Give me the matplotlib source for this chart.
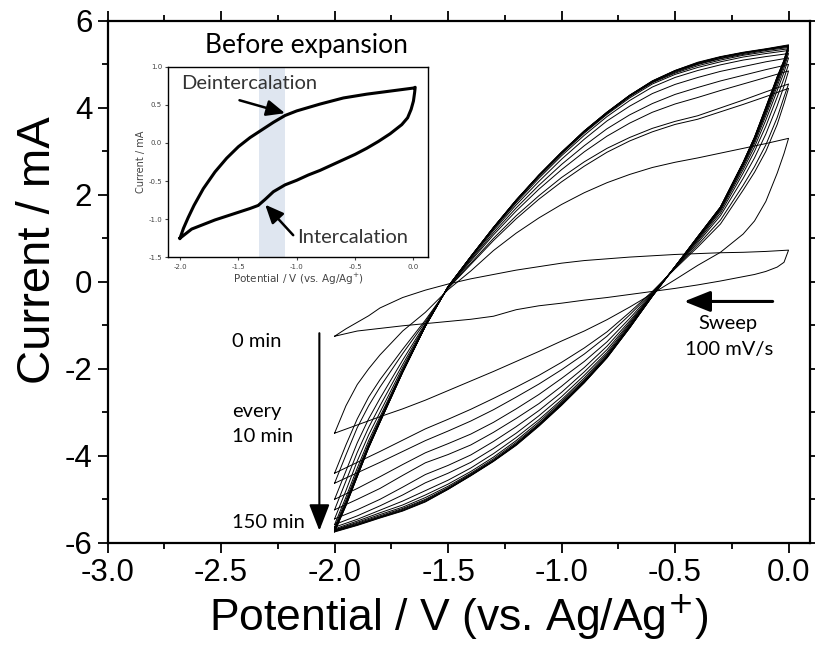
import matplotlib
matplotlib.use("Agg")
import matplotlib.pyplot as plt

plt.rcParams["axes.unicode_minus"] = False

# potentials (V) where the currents were read, forward sweep (-2 -> 0) and reverse (0 -> -2)
fwd_v = [-2.0, -1.95, -1.9, -1.85, -1.8, -1.7, -1.6, -1.5, -1.4, -1.3, -1.2, -1.1,
         -1.0, -0.9, -0.8, -0.7, -0.6, -0.5, -0.4, -0.3, -0.2, -0.1, 0.0]
rev_v = [0.0, -0.02, -0.05, -0.1, -0.15, -0.2, -0.3, -0.4, -0.5, -0.6, -0.7, -0.8,
         -0.9, -1.0, -1.1, -1.2, -1.3, -1.4, -1.5, -1.6, -1.7, -1.8, -1.9, -2.0]

# currents (mA), one loop every 10 min
fwd_000 = [-1.25, -1.08, -0.93, -0.78, -0.60, -0.36, -0.19, -0.05, 0.07, 0.17, 0.27, 0.35, 0.43, 0.49, 0.53, 0.57, 0.60, 0.63, 0.65, 0.67, 0.68, 0.70, 0.73]
rev_000 = [0.73, 0.45, 0.34, 0.24, 0.17, 0.12, 0.02, -0.07, -0.15, -0.22, -0.29, -0.36, -0.42, -0.49, -0.55, -0.64, -0.79, -0.86, -0.91, -0.96, -1.01, -1.07, -1.13, -1.25]
fwd_010 = [-3.48, -2.85, -2.36, -2.00, -1.68, -1.13, -0.70, -0.18, 0.25, 0.72, 1.12, 1.47, 1.78, 2.05, 2.28, 2.47, 2.63, 2.75, 2.85, 2.96, 3.07, 3.18, 3.30]
rev_010 = [3.30, 2.95, 2.50, 1.85, 1.40, 1.10, 0.68, 0.38, 0.05, -0.27, -0.58, -0.87, -1.13, -1.36, -1.60, -1.83, -2.06, -2.28, -2.50, -2.72, -2.92, -3.10, -3.29, -3.48]
fwd_020 = [-4.40, -3.75, -3.15, -2.65, -2.25, -1.55, -0.88, -0.15, 0.40, 0.95, 1.45, 1.90, 2.30, 2.66, 2.98, 3.24, 3.45, 3.62, 3.74, 3.91, 4.08, 4.26, 4.45]
rev_020 = [4.45, 4.10, 3.62, 3.00, 2.52, 2.11, 1.33, 0.80, 0.30, -0.22, -0.70, -1.15, -1.52, -1.85, -2.15, -2.42, -2.68, -2.93, -3.16, -3.38, -3.64, -3.90, -4.15, -4.40]
fwd_030 = [-4.63, -3.98, -3.35, -2.85, -2.42, -1.65, -0.92, -0.14, 0.43, 1.00, 1.52, 1.98, 2.40, 2.76, 3.07, 3.32, 3.53, 3.69, 3.82, 4.00, 4.18, 4.37, 4.55]
rev_030 = [4.55, 4.25, 3.78, 3.15, 2.65, 2.22, 1.42, 0.85, 0.32, -0.24, -0.76, -1.25, -1.66, -2.02, -2.35, -2.65, -2.94, -3.20, -3.43, -3.65, -3.90, -4.15, -4.39, -4.63]
fwd_040 = [-5.00, -4.35, -3.70, -3.15, -2.68, -1.80, -0.96, -0.13, 0.48, 1.08, 1.63, 2.13, 2.58, 2.99, 3.35, 3.65, 3.90, 4.09, 4.24, 4.40, 4.55, 4.70, 4.85]
rev_040 = [4.85, 4.50, 4.05, 3.40, 2.85, 2.38, 1.52, 0.90, 0.33, -0.26, -0.84, -1.38, -1.83, -2.22, -2.59, -2.92, -3.23, -3.50, -3.72, -3.93, -4.20, -4.48, -4.75, -5.00]
fwd_050 = [-5.24, -4.58, -3.92, -3.35, -2.85, -1.90, -0.98, -0.12, 0.51, 1.13, 1.70, 2.22, 2.70, 3.13, 3.52, 3.84, 4.10, 4.31, 4.47, 4.62, 4.75, 4.88, 5.00]
rev_050 = [5.00, 4.68, 4.25, 3.58, 3.00, 2.50, 1.58, 0.94, 0.34, -0.28, -0.90, -1.48, -1.97, -2.40, -2.80, -3.14, -3.46, -3.75, -3.97, -4.16, -4.45, -4.75, -5.00, -5.24]
fwd_060 = [-5.45, -4.80, -4.12, -3.52, -3.00, -1.97, -1.00, -0.12, 0.54, 1.18, 1.77, 2.31, 2.82, 3.28, 3.70, 4.04, 4.33, 4.54, 4.70, 4.84, 4.95, 5.06, 5.15]
rev_060 = [5.15, 4.82, 4.40, 3.72, 3.10, 2.58, 1.63, 0.97, 0.34, -0.29, -0.94, -1.56, -2.07, -2.54, -2.96, -3.33, -3.67, -3.98, -4.22, -4.43, -4.72, -5.00, -5.24, -5.45]
fwd_070 = [-5.58, -4.95, -4.28, -3.65, -3.10, -2.02, -1.01, -0.11, 0.56, 1.21, 1.82, 2.38, 2.90, 3.37, 3.80, 4.17, 4.48, 4.70, 4.86, 4.99, 5.10, 5.18, 5.25]
rev_070 = [5.25, 4.92, 4.50, 3.82, 3.18, 2.64, 1.66, 0.99, 0.35, -0.30, -0.97, -1.62, -2.15, -2.64, -3.08, -3.48, -3.83, -4.15, -4.40, -4.62, -4.90, -5.15, -5.38, -5.58]
fwd_080 = [-5.64, -5.02, -4.36, -3.72, -3.15, -2.04, -1.01, -0.11, 0.57, 1.23, 1.85, 2.42, 2.94, 3.42, 3.85, 4.23, 4.55, 4.77, 4.93, 5.06, 5.17, 5.25, 5.32]
rev_080 = [5.32, 4.98, 4.57, 3.88, 3.23, 2.68, 1.68, 1.01, 0.35, -0.31, -1.00, -1.66, -2.21, -2.71, -3.17, -3.58, -3.95, -4.28, -4.56, -4.80, -5.04, -5.25, -5.46, -5.64]
fwd_090 = [-5.68, -5.07, -4.41, -3.76, -3.18, -2.05, -1.02, -0.11, 0.57, 1.24, 1.86, 2.44, 2.96, 3.44, 3.87, 4.26, 4.58, 4.80, 4.97, 5.10, 5.21, 5.29, 5.36]
rev_090 = [5.36, 5.02, 4.62, 3.92, 3.26, 2.70, 1.69, 1.02, 0.35, -0.32, -1.02, -1.69, -2.25, -2.75, -3.22, -3.65, -4.03, -4.36, -4.65, -4.90, -5.13, -5.31, -5.50, -5.68]
fwd_100 = [-5.70, -5.09, -4.43, -3.78, -3.20, -2.06, -1.02, -0.11, 0.58, 1.24, 1.87, 2.44, 2.97, 3.45, 3.88, 4.27, 4.59, 4.82, 5.00, 5.13, 5.23, 5.32, 5.39]
rev_100 = [5.39, 5.05, 4.65, 3.95, 3.28, 2.72, 1.70, 1.03, 0.35, -0.32, -1.03, -1.71, -2.28, -2.78, -3.26, -3.69, -4.07, -4.40, -4.70, -4.96, -5.18, -5.35, -5.53, -5.70]
fwd_110 = [-5.71, -5.11, -4.45, -3.79, -3.21, -2.07, -1.02, -0.11, 0.58, 1.25, 1.87, 2.45, 2.97, 3.46, 3.89, 4.28, 4.60, 4.84, 5.01, 5.14, 5.25, 5.34, 5.41]
rev_110 = [5.41, 5.06, 4.67, 3.97, 3.30, 2.73, 1.71, 1.03, 0.35, -0.32, -1.04, -1.72, -2.29, -2.80, -3.28, -3.72, -4.10, -4.42, -4.73, -5.00, -5.21, -5.38, -5.55, -5.71]
fwd_120 = [-5.72, -5.12, -4.46, -3.80, -3.22, -2.07, -1.02, -0.11, 0.58, 1.25, 1.88, 2.45, 2.98, 3.46, 3.89, 4.28, 4.61, 4.85, 5.02, 5.16, 5.26, 5.34, 5.42]
rev_120 = [5.42, 5.07, 4.69, 3.99, 3.31, 2.74, 1.71, 1.04, 0.35, -0.33, -1.05, -1.73, -2.30, -2.81, -3.29, -3.73, -4.11, -4.44, -4.75, -5.02, -5.23, -5.40, -5.57, -5.72]
fwd_130 = [-5.73, -5.13, -4.47, -3.81, -3.22, -2.08, -1.02, -0.11, 0.58, 1.25, 1.88, 2.45, 2.98, 3.47, 3.90, 4.29, 4.61, 4.85, 5.03, 5.17, 5.27, 5.35, 5.43]
rev_130 = [5.43, 5.08, 4.70, 4.00, 3.32, 2.74, 1.72, 1.04, 0.35, -0.33, -1.05, -1.74, -2.31, -2.82, -3.30, -3.74, -4.12, -4.45, -4.76, -5.04, -5.25, -5.41, -5.58, -5.73]
fwd_140 = [-5.74, -5.14, -4.47, -3.81, -3.23, -2.08, -1.02, -0.11, 0.58, 1.25, 1.88, 2.45, 2.98, 3.47, 3.90, 4.29, 4.62, 4.86, 5.04, 5.17, 5.27, 5.35, 5.44]
rev_140 = [5.44, 5.09, 4.71, 4.01, 3.32, 2.75, 1.72, 1.04, 0.35, -0.33, -1.06, -1.74, -2.32, -2.83, -3.31, -3.75, -4.12, -4.45, -4.77, -5.05, -5.26, -5.42, -5.59, -5.74]
fwd_150 = [-5.75, -5.15, -4.48, -3.82, -3.23, -2.08, -1.02, -0.11, 0.58, 1.25, 1.88, 2.46, 2.98, 3.47, 3.90, 4.29, 4.62, 4.86, 5.05, 5.18, 5.28, 5.36, 5.45]
rev_150 = [5.45, 5.10, 4.72, 4.02, 3.33, 2.75, 1.72, 1.04, 0.35, -0.33, -1.06, -1.75, -2.32, -2.84, -3.32, -3.76, -4.13, -4.46, -4.77, -5.06, -5.27, -5.43, -5.60, -5.75]

# inset: first loop before expansion, read more finely
ins_fwd_v = [-2.0, -1.97, -1.93, -1.88, -1.8, -1.7, -1.6, -1.5, -1.4, -1.3, -1.2, -1.1, -1.0, -0.8, -0.6, -0.4, -0.2, -0.05, 0.0, 0.015]
ins_fwd_i = [-1.25, -1.12, -0.98, -0.82, -0.60, -0.38, -0.20, -0.05, 0.07, 0.17, 0.27, 0.36, 0.42, 0.51, 0.59, 0.64, 0.68, 0.71, 0.72, 0.73]
ins_rev_v = [0.015, 0.01, 0.0, -0.02, -0.05, -0.1, -0.2, -0.3, -0.4, -0.5, -0.6, -0.7, -0.8, -0.9, -1.0, -1.1, -1.2, -1.27, -1.33, -1.4, -1.5, -1.6, -1.7, -1.8, -1.9, -2.0]
ins_rev_i = [0.73, 0.66, 0.55, 0.44, 0.33, 0.24, 0.12, 0.02, -0.07, -0.15, -0.22, -0.29, -0.36, -0.42, -0.49, -0.55, -0.64, -0.74, -0.82, -0.86, -0.91, -0.96, -1.01, -1.07, -1.13, -1.25]

loops = [(fwd_000, rev_000), (fwd_010, rev_010), (fwd_020, rev_020), (fwd_030, rev_030),
         (fwd_040, rev_040), (fwd_050, rev_050), (fwd_060, rev_060), (fwd_070, rev_070),
         (fwd_080, rev_080), (fwd_090, rev_090), (fwd_100, rev_100), (fwd_110, rev_110),
         (fwd_120, rev_120), (fwd_130, rev_130), (fwd_140, rev_140), (fwd_150, rev_150)]

ann_font = "Lato"
fig = plt.figure(figsize=(8.15, 6.54), dpi=100)
ax = fig.add_axes([0.132, 0.170, 0.862, 0.798])

for f, r in loops:
    ax.plot(fwd_v + rev_v, f + r, c="black", lw=0.7)

ax.set_xlim(-3.0, 0.095)
ax.set_ylim(-6, 6)
ax.set_xticks([-3.0, -2.5, -2.0, -1.5, -1.0, -0.5, 0.0])
ax.set_xticklabels(["-3.0", "-2.5", "-2.0", "-1.5", "-1.0", "-0.5", "0.0"])
ax.set_xticks([-2.75, -2.25, -1.75, -1.25, -0.75, -0.25], minor=True)
ax.set_yticks([-6, -4, -2, 0, 2, 4, 6])
ax.set_yticks([-5, -3, -1, 1, 3, 5], minor=True)
ax.tick_params(which="both", direction="out", top=True, right=True, width=1.3,
               labelsize=22.5, pad=4)
ax.tick_params(which="major", length=7)
ax.tick_params(which="minor", length=4)
for s in ax.spines.values():
    s.set_linewidth(1.6)
for lab in ax.get_xticklabels() + ax.get_yticklabels():
    lab.set_family("Liberation Sans")
ax.set_xlabel("Potential / V (vs. Ag/Ag$^{+}$)", fontsize=32, family="Liberation Sans", labelpad=3)
ax.set_ylabel("Current / mA", fontsize=34, family="Liberation Sans", labelpad=2)
ax.yaxis.set_label_coords(-0.068, 0.56)

# time annotations
ax.annotate("", xy=(-2.067, -5.72), xytext=(-2.067, -1.18),
            arrowprops=dict(arrowstyle="-|>,head_width=0.35,head_length=0.9", color="black", lw=1.5,
                            mutation_scale=18, shrinkA=0, shrinkB=0))
ax.text(-2.45, -1.37, "0 min", fontsize=14.5, family=ann_font, va="center", ha="left")
ax.text(-2.45, -2.98, "every", fontsize=14.5, family=ann_font, va="center", ha="left")
ax.text(-2.45, -3.55, "10 min", fontsize=14.5, family=ann_font, va="center", ha="left")
ax.text(-2.45, -5.54, "150 min", fontsize=14.5, family=ann_font, va="center", ha="left")

ax.annotate("", xy=(-0.46, -0.45), xytext=(-0.07, -0.45),
            arrowprops=dict(arrowstyle="-|>,head_width=0.4,head_length=1.0", color="black", lw=2.2,
                            mutation_scale=16, shrinkA=0, shrinkB=0))
ax.text(-0.268, -0.95, "Sweep", fontsize=14.5, family=ann_font, va="center", ha="center")
ax.text(-0.262, -1.55, "100 mV/s", fontsize=14.5, family=ann_font, va="center", ha="center")

# inset
ins = fig.add_axes([0.2065, 0.6066, 0.3187, 0.2914])
ins.axvspan(-1.32, -1.10, color="#dfe6f0", lw=0)
ins.plot(ins_fwd_v + ins_rev_v, ins_fwd_i + ins_rev_i, c="black", lw=2.2)
ins.set_xlim(-2.1, 0.125)
ins.set_ylim(-1.5, 1.0)
ins.set_xticks([-2.0, -1.5, -1.0, -0.5, 0.0])
ins.set_yticks([-1.5, -1.0, -0.5, 0.0, 0.5, 1.0])
ins.tick_params(direction="out", length=2.5, width=0.8, labelsize=5, colors="#444444", pad=2)
for s in ins.spines.values():
    s.set_linewidth(1.0)
ins.set_xlabel("Potential / V (vs. Ag/Ag$^{+}$)", fontsize=7.5, color="#444444", labelpad=2)
ins.set_ylabel("Current / mA", fontsize=7, color="#444444", labelpad=2)
ins.annotate("", xy=(-1.10, 0.39), xytext=(-1.49, 0.56),
             arrowprops=dict(arrowstyle="-|>,head_width=0.35,head_length=0.8", color="black", lw=1.8,
                             mutation_scale=14, shrinkA=0, shrinkB=0))
ins.annotate("", xy=(-1.27, -0.81), xytext=(-1.03, -1.21),
             arrowprops=dict(arrowstyle="-|>,head_width=0.35,head_length=0.8", color="black", lw=1.8,
                             mutation_scale=14, shrinkA=0, shrinkB=0))
ins.text(-1.41, 0.78, "Deintercalation", fontsize=14.5, family=ann_font, color="#333333", ha="center", va="center")
ins.text(-0.52, -1.24, "Intercalation", fontsize=14.5, family=ann_font, color="#333333", ha="center", va="center")

fig.text(306 / 815, 1 - 46 / 654, "Before expansion", fontsize=19, family=ann_font, ha="center", va="center")

fig.savefig("out.png", dpi=100)
